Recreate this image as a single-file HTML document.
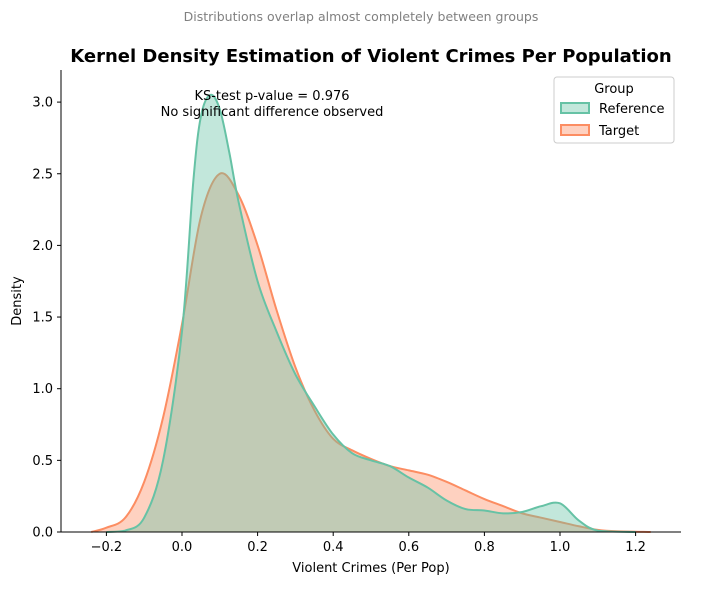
<!DOCTYPE html>
<html><head><meta charset="utf-8"><style>
body{margin:0;background:#fff;font-family:"DejaVu Sans",sans-serif}
svg text{font-family:"DejaVu Sans",sans-serif}
</style></head><body>
<svg id="chart" width="706" height="585" xmlns="http://www.w3.org/2000/svg">
<text x="361" y="21" text-anchor="middle" font-size="12.5" fill="#808080">Distributions overlap almost completely between groups</text>
<text x="371" y="62" text-anchor="middle" font-size="18" font-weight="bold">Kernel Density Estimation of Violent Crimes Per Population</text>
<g id="plot"></g>
<text x="272" y="100" text-anchor="middle" font-size="13">KS-test p-value = 0.976</text>
<text x="272" y="116" text-anchor="middle" font-size="13">No significant difference observed</text>
<g>
<rect x="554" y="77" width="120" height="66" rx="3" fill="#fff" fill-opacity="0.8" stroke="#ccc"/>
<text x="614" y="93" text-anchor="middle" font-size="13">Group</text>
<rect x="561" y="103" width="28" height="10" fill="rgba(102,194,165,0.4)" stroke="#66c2a5" stroke-width="2"/>
<text x="599" y="113" font-size="13">Reference</text>
<rect x="561" y="125" width="28" height="10" fill="rgba(252,141,98,0.4)" stroke="#fc8d62" stroke-width="2"/>
<text x="599" y="135" font-size="13">Target</text>
</g>
<text x="371" y="572" text-anchor="middle" font-size="13">Violent Crimes (Per Pop)</text>
<text x="21" y="301" text-anchor="middle" font-size="13" transform="rotate(-90 21 301)">Density</text>
</svg>
<script>
const refX=[-0.2,-0.15,-0.1,-0.05,0,0.03,0.05,0.075,0.1,0.125,0.15,0.2,0.25,0.3,0.35,0.4,0.45,0.5,0.55,0.6,0.65,0.7,0.75,0.8,0.85,0.9,0.95,1.0,1.05,1.1,1.2];
const refY=[0,0.01,0.1,0.5,1.4,2.45,2.9,3.05,2.95,2.65,2.3,1.75,1.4,1.1,0.88,0.68,0.55,0.5,0.46,0.38,0.31,0.22,0.16,0.15,0.13,0.14,0.18,0.2,0.08,0.01,0];
const tgtX=[-0.24,-0.2,-0.15,-0.1,-0.05,0,0.05,0.1,0.15,0.2,0.25,0.3,0.35,0.4,0.45,0.5,0.55,0.6,0.65,0.7,0.75,0.8,0.85,0.9,0.95,1.0,1.05,1.1,1.15,1.24];
const tgtY=[0,0.03,0.1,0.35,0.8,1.45,2.2,2.5,2.35,2.0,1.55,1.15,0.85,0.65,0.57,0.51,0.46,0.43,0.4,0.35,0.29,0.23,0.18,0.13,0.1,0.07,0.04,0.015,0.005,0];
const xTicks=[-0.2,0.0,0.2,0.4,0.6,0.8,1.0,1.2];
const yTicks=[0,0.5,1.0,1.5,2.0,2.5,3.0];
const X=v=>182+v*378, Y=v=>532-v*143.3;
const NS="http://www.w3.org/2000/svg", g=document.getElementById('plot');
function mk(t,a){const e=document.createElementNS(NS,t);for(const k in a)e.setAttribute(k,a[k]);g.appendChild(e);return e;}
function path(xs,ys){let d='M'+X(xs[0])+','+Y(ys[0]);
 for(let i=0;i<xs.length-1;i++){const p0=[X(xs[Math.max(i-1,0)]),Y(ys[Math.max(i-1,0)])],p1=[X(xs[i]),Y(ys[i])],p2=[X(xs[i+1]),Y(ys[i+1])],p3=[X(xs[Math.min(i+2,xs.length-1)]),Y(ys[Math.min(i+2,xs.length-1)])];
 const c1y=Math.min(Y(0),p1[1]+(p2[1]-p0[1])/6), c2y=Math.min(Y(0),p2[1]-(p3[1]-p1[1])/6);
 d+=` C${p1[0]+(p2[0]-p0[0])/6},${c1y} ${p2[0]-(p3[0]-p1[0])/6},${c2y} ${p2[0]},${p2[1]}`;}
 return d;}
function series(xs,ys,c,fill,name){
 const a=mk('path',{d:path(xs,ys)+` L${X(xs[xs.length-1])},${Y(0)} L${X(xs[0])},${Y(0)} Z`,fill:fill,stroke:'none'});
 
 
 const l=mk('path',{d:path(xs,ys),fill:'none',stroke:c,'stroke-width':2});
 
 }
series(tgtX,tgtY,'#fc8d62','rgba(252,141,98,0.4)','target');
series(refX,refY,'#66c2a5','rgba(102,194,165,0.4)','reference');
const ax=mk('path',{d:'M61,70 V532 H681',fill:'none',stroke:'#000','stroke-width':1});


xTicks.forEach(v=>{mk('line',{x1:X(v),x2:X(v),y1:532,y2:536,stroke:'#000'});
 const t=mk('text',{x:X(v),y:551,'text-anchor':'middle','font-size':13});t.textContent=v.toFixed(1).replace('-','\u2212');
 
 });
yTicks.forEach(v=>{mk('line',{x1:57,x2:61,y1:Y(v),y2:Y(v),stroke:'#000'});
 const t=mk('text',{x:53,y:Y(v)+4.5,'text-anchor':'end','font-size':13});t.textContent=v.toFixed(1);
 
 });
</script>
</body></html>
